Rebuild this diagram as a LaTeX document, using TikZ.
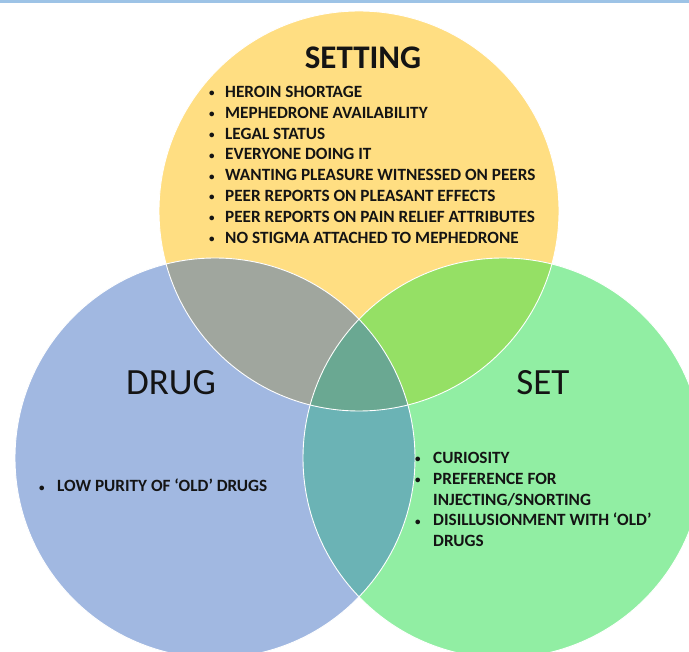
\documentclass[tikz,border=0pt]{standalone}
\usepackage{fontspec}
\setmainfont{Carlito}
\newcommand{\dotmark}[1]{\makebox[#1][l]{\raisebox{0.5pt}{\fontsize{11}{11}\selectfont•}}}
\begin{document}
\begin{tikzpicture}[x=1pt,y=-1pt,
  title/.style={font=\fontsize{37}{40}\selectfont, inner sep=0pt},
  items/.style={font=\fontsize{17.2}{20.8}\selectfont\bfseries, align=left, anchor=north west, inner sep=0pt},
  rim/.style={draw=white, line width=0.9pt}]
  \definecolor{settingc}{RGB}{255,222,130}
  \definecolor{drugc}{RGB}{161,184,225}
  \definecolor{setc}{RGB}{145,238,163}
  \definecolor{sdc}{RGB}{160,166,158}
  \definecolor{ssc}{RGB}{149,224,101}
  \definecolor{dsc}{RGB}{107,179,181}
  \definecolor{allc}{RGB}{106,168,146}
  \definecolor{topline}{RGB}{157,195,230}
  \definecolor{inkc}{RGB}{20,20,20}

  \useasboundingbox (0,0) rectangle (689,652);
  \fill[white] (0,0) rectangle (689,652);

  \coordinate (cSetting) at (359,211);
  \coordinate (cDrug) at (215,458);
  \coordinate (cSet) at (503,458);
  \def\R{200}

  % the three circles
  \fill[settingc] (cSetting) circle (\R);
  \fill[drugc] (cDrug) circle (\R);
  \fill[setc] (cSet) circle (\R);

  % pairwise overlaps
  \begin{scope}
    \clip (cSetting) circle (\R);
    \fill[sdc] (cDrug) circle (\R);
    \fill[ssc] (cSet) circle (\R);
  \end{scope}
  \begin{scope}
    \clip (cDrug) circle (\R);
    \fill[dsc] (cSet) circle (\R);
  \end{scope}
  % centre region
  \begin{scope}
    \clip (cSetting) circle (\R);
    \clip (cDrug) circle (\R);
    \fill[allc] (cSet) circle (\R);
  \end{scope}

  % thin white rims
  \draw[rim] (cSetting) circle (\R);
  \draw[rim] (cDrug) circle (\R);
  \draw[rim] (cSet) circle (\R);

  % rule along the top edge
  \fill[topline] (0,0) rectangle (689,3);

  % titles
  \node[title, font=\fontsize{33}{36}\selectfont\bfseries, text=inkc] (tSetting) at (363,58) {SETTING};
  \node[title, text=inkc] (tDrug) at (171,383) {DRUG};
  \node[title, text=inkc] (tSet) at (543,383) {SET};

  % bullet lists
  \node[items, text=inkc] (lSetting) at (209,86) {%
    \dotmark{16pt}HEROIN SHORTAGE\\
    \dotmark{16pt}MEPHEDRONE AVAILABILITY\\
    \dotmark{16pt}LEGAL STATUS\\
    \dotmark{16pt}EVERYONE DOING IT\\
    \dotmark{16pt}WANTING PLEASURE WITNESSED ON PEERS\\
    \dotmark{16pt}PEER REPORTS ON PLEASANT EFFECTS\\
    \dotmark{16pt}PEER REPORTS ON PAIN RELIEF ATTRIBUTES\\
    \dotmark{16pt}NO STIGMA ATTACHED TO MEPHEDRONE};

  \node[items, text=inkc] (lDrug) at (39,479) {%
    \dotmark{18pt}LOW PURITY OF ‘OLD’ DRUGS};

  \node[items, text=inkc] (lSet) at (415,452) {%
    \dotmark{18pt}CURIOSITY\\
    \dotmark{18pt}PREFERENCE FOR\\
    \hspace*{18pt}INJECTING/SNORTING\\
    \dotmark{18pt}DISILLUSIONMENT WITH ‘OLD’\\
    \hspace*{18pt}DRUGS};
\end{tikzpicture}
\end{document}
